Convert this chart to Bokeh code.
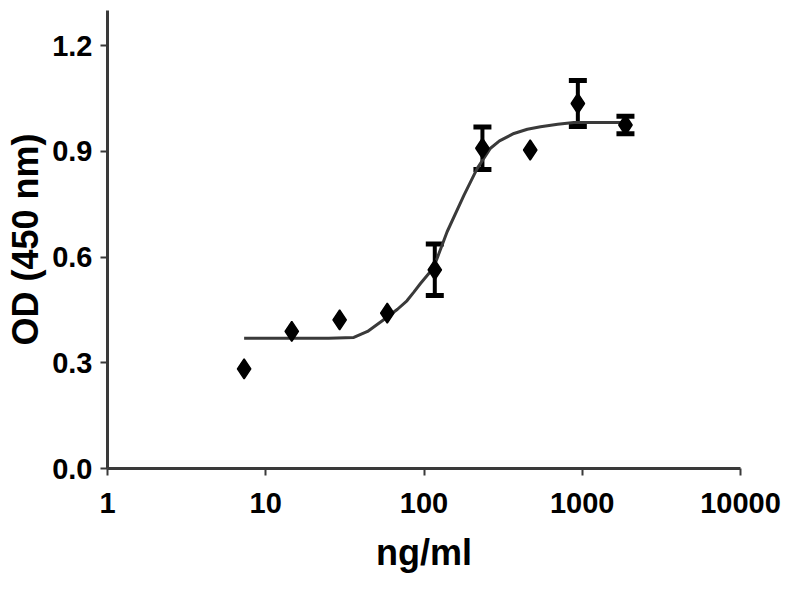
#!/usr/bin/env python

# Packages and Definitions
from bokeh.models import (ColumnDataSource, Range1d, FixedTicker,
                          PrintfTickFormatter, Whisker, TeeHead)
from bokeh.plotting import figure
from bokeh.embed import file_html
from bokeh.resources import INLINE

FONT = "Liberation Sans"

# Data
conc = [7.3, 14.6, 29.3, 58.6, 117, 234, 469, 938, 1875]
od = [0.283, 0.389, 0.422, 0.441, 0.564, 0.909, 0.904, 1.036, 0.975]
sem = [0, 0, 0, 0, 0.073, 0.06, 0, 0.065, 0.025]

# fitted curve
curve_x = [7.3, 15, 25, 36, 44, 57, 68, 78, 86, 95, 115, 140, 179, 217,
           263, 300, 370, 450, 545, 700, 885, 1875]
curve_y = [0.370, 0.370, 0.370, 0.372, 0.389, 0.426, 0.452, 0.476, 0.500,
           0.525, 0.570, 0.672, 0.776, 0.852, 0.909, 0.930, 0.951, 0.963,
           0.970, 0.977, 0.982, 0.982]

x_ticks = [1, 10, 100, 1000, 10000]
y_ticks = [0.0, 0.3, 0.6, 0.9, 1.2]


def plot():
    p = figure(
        width=784, height=584,
        x_axis_type="log",
        x_range=Range1d(1, 10000), y_range=Range1d(0, 1.3),
        x_axis_label="ng/ml", y_axis_label="OD (450 nm)",
        output_backend="svg", toolbar_location=None,
        min_border_left=107, min_border_right=44,
        min_border_top=10, min_border_bottom=116,
    )
    p.outline_line_color = None
    p.xgrid.visible = False
    p.ygrid.visible = False

    # curve
    p.line(curve_x, curve_y, line_color="#3a3a3a", line_width=3)

    # error bars
    err = [i for i in range(len(conc)) if sem[i] > 0]
    src = ColumnDataSource(dict(
        x=[conc[i] for i in err],
        lower=[od[i] - sem[i] for i in err],
        upper=[od[i] + sem[i] for i in err],
    ))
    p.add_layout(Whisker(
        source=src, base="x", lower="lower", upper="upper",
        line_color="black", line_width=4,
        upper_head=TeeHead(size=18, line_width=5, line_color="black"),
        lower_head=TeeHead(size=18, line_width=5, line_color="black"),
    ))

    # points
    p.scatter(conc, od, marker="diamond", size=20,
              fill_color="black", line_color="black", line_width=1.5)

    # axes
    p.xaxis.ticker = FixedTicker(ticks=x_ticks, minor_ticks=[])
    p.xaxis.formatter = PrintfTickFormatter(format="%d")
    p.yaxis.ticker = FixedTicker(ticks=y_ticks, minor_ticks=[])
    p.yaxis.formatter = PrintfTickFormatter(format="%.1f")

    for ax in (p.xaxis, p.yaxis):
        ax.axis_line_color = "#3a3a3a"
        ax.axis_line_width = 3
        ax.major_tick_line_color = "#3a3a3a"
        ax.major_tick_line_width = 2
        ax.major_tick_out = 7
        ax.major_tick_in = 0
        ax.major_label_text_font = FONT
        ax.major_label_text_font_style = "bold"
        ax.major_label_text_font_size = "29px"
        ax.major_label_text_color = "black"
        ax.axis_label_text_font = FONT
        ax.axis_label_text_font_style = "bold"
        ax.axis_label_text_font_size = "36px"
        ax.axis_label_text_color = "black"

    p.xaxis.major_label_standoff = 17
    p.xaxis.axis_label_standoff = 16
    p.yaxis.major_label_standoff = 8
    p.yaxis.axis_label_standoff = 3

    open("out.html", "w").write(file_html(p, INLINE))


if __name__ == '__main__':
    plot()
